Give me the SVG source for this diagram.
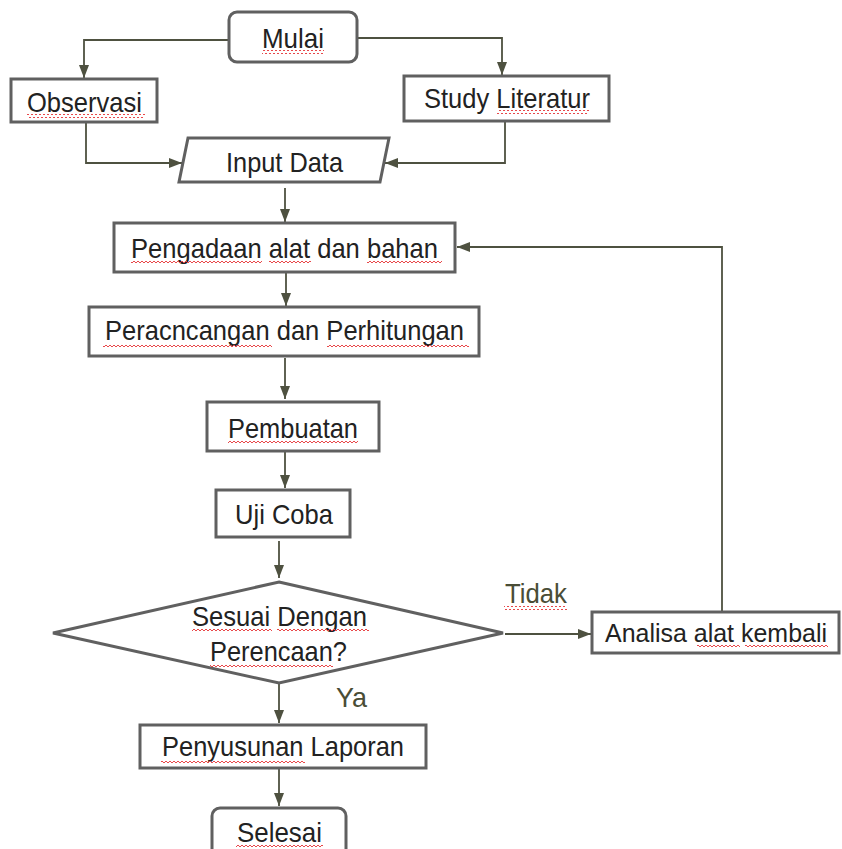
<svg xmlns="http://www.w3.org/2000/svg" width="842" height="849" viewBox="0 0 842 849">
<style>
.box{fill:#fff;stroke:#606060;stroke-width:3}
.con{fill:none;stroke:#4e5140;stroke-width:1.8}
.t{font-family:"Liberation Sans",Arial,sans-serif;font-size:28px;fill:#222;text-anchor:middle}
.lbl{font-family:"Liberation Sans",Arial,sans-serif;font-size:28px;fill:#4a4d36}
.sq{fill:url(#squig)}
</style>
<defs>
<marker id="ah" markerUnits="userSpaceOnUse" markerWidth="14" markerHeight="14" viewBox="0 0 14 14" refX="13" refY="7" orient="auto">
<path d="M0,2 L13,7 L0,12 Z" fill="#4e5140"/>
</marker>
<pattern id="squig" patternUnits="userSpaceOnUse" width="4" height="4">
<path d="M0,3 L2,1 L4,3" fill="none" stroke="#e8484a" stroke-width="1"/>
</pattern>
</defs>
<rect width="842" height="849" fill="#fff"/>
<g id="connectors">
<path class="con" d="M229,40 H84 V78" marker-end="url(#ah)"/>
<path class="con" d="M357,38 H502 V75" marker-end="url(#ah)"/>
<path class="con" d="M86,122 V163 H182" marker-end="url(#ah)"/>
<path class="con" d="M505,121 V163 H385" marker-end="url(#ah)"/>
<path class="con" d="M285,188 V222" marker-end="url(#ah)"/>
<path class="con" d="M286,272 V306" marker-end="url(#ah)"/>
<path class="con" d="M285,358 V399" marker-end="url(#ah)"/>
<path class="con" d="M285,451 V488" marker-end="url(#ah)"/>
<path class="con" d="M279,541 V578" marker-end="url(#ah)"/>
<path class="con" d="M505,634 H591" marker-end="url(#ah)"/>
<path class="con" d="M722,612 V247 H457" marker-end="url(#ah)"/>
<path class="con" d="M279,683 V723" marker-end="url(#ah)"/>
<path class="con" d="M279,768 V806" marker-end="url(#ah)"/>
</g>
<g id="mulai">
<rect class="box" x="229" y="12" width="128" height="50" rx="8"/>
<text class="t" x="293" y="48" textLength="62" lengthAdjust="spacingAndGlyphs">Mulai</text>
<rect class="sq" x="262" y="50" width="62" height="4"/>
</g>
<g id="observasi">
<rect class="box" x="11" y="79" width="146" height="43"/>
<text class="t" x="84.5" y="112" textLength="115" lengthAdjust="spacingAndGlyphs">Observasi</text>
<rect class="sq" x="27" y="114" width="118" height="4"/>
</g>
<g id="study">
<rect class="box" x="404" y="76" width="205" height="45"/>
<text class="t" x="507" y="108" textLength="166" lengthAdjust="spacingAndGlyphs">Study Literatur</text>
<rect class="sq" x="497" y="110" width="92" height="4"/>
</g>
<g id="input">
<polygon class="box" points="188,138 389,138 380,182 179,182"/>
<text class="t" x="284.5" y="172" textLength="117" lengthAdjust="spacingAndGlyphs">Input Data</text>
</g>
<g id="pengadaan">
<rect class="box" x="114" y="223" width="341" height="49"/>
<text class="t" x="284.5" y="258" textLength="307" lengthAdjust="spacingAndGlyphs">Pengadaan alat dan bahan</text>
<rect class="sq" x="131" y="259" width="131" height="4"/>
<rect class="sq" x="269" y="259" width="42" height="4"/>
<rect class="sq" x="367" y="259" width="75" height="4"/>
</g>
<g id="perancangan">
<rect class="box" x="89" y="307" width="390" height="49"/>
<text class="t" x="284.5" y="340" textLength="359" lengthAdjust="spacingAndGlyphs">Peracncangan dan Perhitungan</text>
<rect class="sq" x="103" y="343" width="169" height="4"/>
<rect class="sq" x="327" y="343" width="142" height="4"/>
</g>
<g id="pembuatan">
<rect class="box" x="207" y="402" width="172" height="49"/>
<text class="t" x="293" y="438" textLength="130" lengthAdjust="spacingAndGlyphs">Pembuatan</text>
<rect class="sq" x="228" y="440" width="130" height="4"/>
</g>
<g id="ujicoba">
<rect class="box" x="216" y="490" width="134" height="47"/>
<text class="t" x="284" y="524" textLength="98" lengthAdjust="spacingAndGlyphs">Uji Coba</text>
</g>
<g id="decision">
<polygon class="box" points="279,582 503,633 279,683 53,633"/>
<text class="t" x="279.5" y="626" textLength="175" lengthAdjust="spacingAndGlyphs">Sesuai Dengan</text>
<text class="t" x="278.5" y="661" textLength="137" lengthAdjust="spacingAndGlyphs">Perencaan?</text>
<rect class="sq" x="192" y="628" width="80" height="4"/>
<rect class="sq" x="277" y="628" width="92" height="4"/>
<rect class="sq" x="210" y="663" width="123" height="4"/>
</g>
<g id="label-tidak">
<text class="lbl" x="505" y="603" textLength="62" lengthAdjust="spacingAndGlyphs">Tidak</text>
<rect class="sq" x="504" y="606" width="63" height="4"/>
</g>
<g id="analisa">
<rect class="box" x="592" y="612" width="247" height="41"/>
<text class="t" x="716" y="642" style="font-size:25px" textLength="222" lengthAdjust="spacingAndGlyphs">Analisa alat kembali</text>
<rect class="sq" x="697" y="644" width="43" height="4"/>
<rect class="sq" x="745" y="644" width="83" height="4"/>
</g>
<g id="label-ya">
<text class="lbl" x="336" y="707" textLength="31" lengthAdjust="spacingAndGlyphs">Ya</text>
</g>
<g id="penyusunan">
<rect class="box" x="140" y="725" width="286" height="43"/>
<text class="t" x="283" y="756" textLength="242" lengthAdjust="spacingAndGlyphs">Penyusunan Laporan</text>
<rect class="sq" x="161" y="759" width="144" height="4"/>
</g>
<g id="selesai">
<rect class="box" x="212" y="808" width="134" height="60" rx="8"/>
<text class="t" x="279.5" y="842" textLength="85" lengthAdjust="spacingAndGlyphs">Selesai</text>
<rect class="sq" x="236" y="843" width="87" height="4"/>
</g>
</svg>
